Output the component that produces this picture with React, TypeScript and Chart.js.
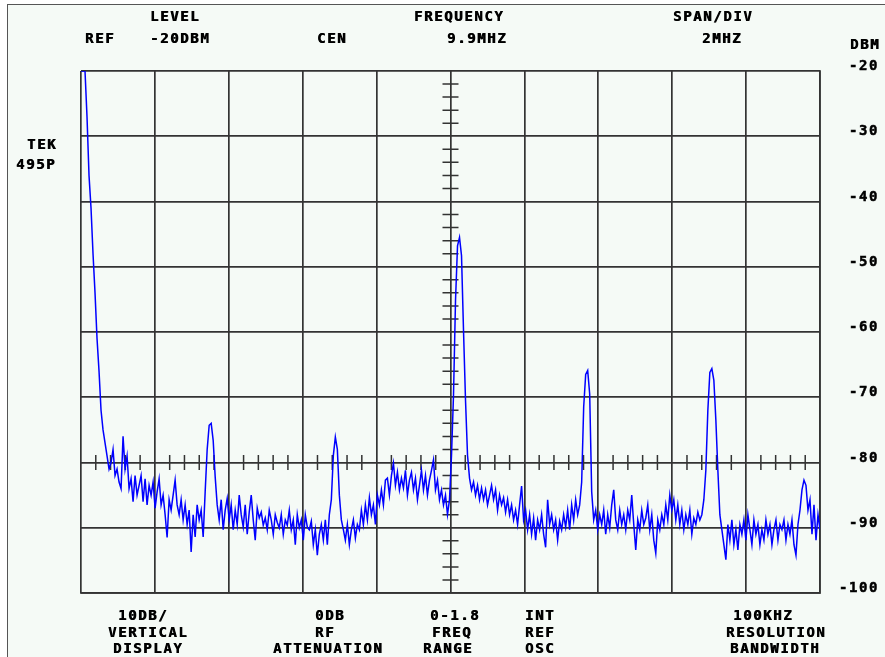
import React, { useEffect, useRef } from "react";
import { Chart, registerables } from "chart.js";

Chart.register(...registerables);

// ---- instrument settings ----
const centerMHz = 9.9;
const spanPerDivMHz = 2;
const divisionsX = 10;
const refLevelDbm = -20;
const dbPerDiv = 10;
const divisionsY = 8;
const yTickLabels = [-20, -30, -40, -50, -60, -70, -80, -90, -100];
const markerLineDbm = -80;

// ---- trace (dBm), evenly spaced across the 10 divisions ----
const traceDbm = [
  -20, -20, -20, -27, -36, -41, -48, -54, -61, -66,
  -72, -75, -77, -79, -81, -80, -78, -82, -81, -83,
  -84, -76, -81, -79, -84, -82.5, -86, -82, -85, -83.5,
  -82, -86, -82.5, -86.5, -83.5, -85, -83, -87, -84.5, -82.5,
  -86.5, -85, -88, -91.5, -85.7, -87.3, -85, -82.7, -86.5, -88,
  -85.7, -88.8, -86.5, -89.5, -87.3, -93.7, -88, -91.4, -86.5, -88.8,
  -87.3, -91.4, -84.5, -78, -74.3, -74, -76.6, -82.2, -86.5, -88.8,
  -85.7, -90.3, -87.3, -85.5, -88.8, -86.5, -90.3, -87.3, -89.5, -85,
  -88, -89.9, -86.5, -91, -87.6, -85, -88.8, -91.9, -87, -88.5,
  -87.6, -89.6, -88.5, -90.3, -87.3, -88.8, -91, -88, -89.2, -90,
  -88, -91, -88.8, -89.6, -87.3, -90.3, -88.8, -92.6, -88, -90,
  -88.8, -91.9, -88, -89.9, -90.3, -89, -92.6, -90.3, -94.2, -91,
  -89.5, -91.9, -88.8, -92.6, -88, -85.7, -78.9, -76.1, -78, -85,
  -88.8, -90.3, -91.9, -89.5, -92.6, -90.3, -88.8, -91.6, -89.5, -90.3,
  -87.3, -89.5, -86.5, -88.8, -85.4, -88, -86.5, -89.5, -85, -86.5,
  -84.2, -86.5, -82.7, -82.4, -85, -82, -80.1, -83.5, -81.5, -84.2,
  -82.4, -83.9, -81.2, -85, -82.7, -81.5, -84.2, -82.4, -85.7, -83.5,
  -81.2, -84.2, -82, -85, -82.7, -81.2, -79.6, -84.2, -82.7, -85.7,
  -84.2, -86.5, -85, -88, -85.7, -78.9, -69.7, -55.2, -46.8, -45.5,
  -48.3, -59.8, -70.5, -78.9, -82.4, -84.2, -83, -85, -83.5, -85.7,
  -83.9, -85.7, -84.2, -86.5, -85, -83.5, -85.7, -84.2, -87.3, -85,
  -86.5, -85.4, -87.6, -85.7, -88, -86.5, -88.8, -87.3, -89.5, -86.5,
  -83.6, -88.8, -87.3, -90.3, -88, -91, -88.5, -91.9, -88.8, -90.3,
  -88, -91, -93, -85.7, -89.5, -88, -90.3, -88.8, -91.9, -89,
  -90.3, -88, -89.9, -87.3, -90.3, -86.5, -88.8, -85.7, -88, -86.5,
  -83, -71.5, -66.5, -65.9, -69.5, -84.5, -88.8, -87.3, -90.3, -88,
  -89.5, -87.3, -91, -88, -90, -86.5, -84.2, -88.8, -90.3, -87.3,
  -89.5, -88, -90.3, -87.3, -88.8, -85, -89.5, -93.4, -88.8, -90.3,
  -87.3, -89.5, -88.5, -86.5, -90.3, -88, -91.9, -93.9, -88.8, -90.3,
  -88, -89.5, -86.5, -88.8, -85, -87.3, -85.7, -88.8, -86.5, -89.5,
  -87.3, -90.3, -88, -89.5, -87.3, -91, -88.5, -89.5, -87.6, -88.8,
  -88, -85.7, -81.2, -72, -66.2, -65.6, -67.4, -73.5, -81.2, -88,
  -90.3, -92.6, -94.9, -89.5, -91.9, -88.8, -92.6, -90.3, -93.4, -89.5,
  -91, -88.8, -91.9, -88, -90.3, -92.6, -88.8, -91, -89.5, -92.6,
  -90.3, -91.9, -88.8, -91, -89.5, -92.6, -90.3, -88.8, -91.9, -89.5,
  -90.3, -88.8, -91.9, -89.5, -91, -88.8, -92.6, -94.2, -89.5, -87.3,
  -84.2, -82.7, -83.5, -87.3, -85.7, -91, -86.5, -91.9, -88, -90.3,
];

// ---- readout texts ----
const topTitles = ["LEVEL", "FREQUENCY", "SPAN/DIV"];
const topValues = ["REF", "-20DBM", "CEN", "9.9MHZ", "2MHZ"];
const unitLabel = "DBM";
const modelLabel = ["TEK", "495P"];
const bottomBlocks = [
  ["10DB/", "VERTICAL", "DISPLAY"],
  ["0DB", "RF", "ATTENUATION"],
  ["0-1.8", "FREQ", "RANGE"],
  ["INT", "REF", "OSC"],
  ["100KHZ", "RESOLUTION", "BANDWIDTH"],
];

const xMin = centerMHz - (spanPerDivMHz * divisionsX) / 2;
const xMax = centerMHz + (spanPerDivMHz * divisionsX) / 2;
const yMax = refLevelDbm;
const yMin = refLevelDbm - dbPerDiv * divisionsY;

const GRID = "#333333";
const FONT = "'DejaVu Sans Mono', monospace";

const scopeTicks = {
  id: "scopeTicks",
  beforeDatasetsDraw(chart: any) {
    const { ctx, scales } = chart;
    const x = scales.x;
    const y = scales.y;
    ctx.save();
    ctx.strokeStyle = GRID;
    ctx.lineWidth = 1.5;
    ctx.beginPath();
    const yl = y.getPixelForValue(markerLineDbm);
    const sub = 5;
    for (let k = 1; k < divisionsX * sub; k++) {
      if (k % sub === 0) continue;
      const px = x.getPixelForValue(xMin + (k * spanPerDivMHz) / sub);
      ctx.moveTo(px, yl - 7.5);
      ctx.lineTo(px, yl + 7.5);
    }
    const xc = x.getPixelForValue(centerMHz);
    for (let k = 1; k < divisionsY * sub; k++) {
      if (k % sub === 0) continue;
      const py = y.getPixelForValue(yMin + (k * dbPerDiv) / sub);
      ctx.moveTo(xc - 8, py);
      ctx.lineTo(xc + 8, py);
    }
    ctx.stroke();
    ctx.restore();
  },
};

const spacing = {
  id: "spacing",
  beforeUpdate(chart: any) {
    chart.ctx.letterSpacing = "1.6px";
  },
  beforeDraw(chart: any) {
    chart.ctx.letterSpacing = "1.6px";
  },
};

function Txt({ x, y, children }: { x: number; y: number; children: React.ReactNode }) {
  return (
    <div
      style={{
        position: "fixed",
        left: x,
        top: y - 7,
        fontFamily: FONT,
        fontWeight: "bold",
        fontSize: 14,
        lineHeight: "14px",
        letterSpacing: "1.6px",
        color: "#000",
        textShadow: "0.6px 0 0 #000",
        whiteSpace: "nowrap",
      }}
    >
      {children}
    </div>
  );
}

export default function App() {
  const ref = useRef<HTMLCanvasElement | null>(null);

  useEffect(() => {
    if (!ref.current) return;
    const step = (xMax - xMin) / (traceDbm.length - 1);
    const points = traceDbm.map((v, i) => ({ x: xMin + i * step, y: v }));
    const xGrid = Array.from({ length: divisionsX + 1 }, (_, i) => xMin + i * spanPerDivMHz);

    const chart = new Chart(ref.current, {
      type: "line",
      data: {
        datasets: [
          {
            data: points,
            borderColor: "#0000ff",
            borderWidth: 1.5,
            pointRadius: 0,
            tension: 0,
            fill: false,
          },
        ],
      },
      options: {
        animation: false,
        responsive: false,
        maintainAspectRatio: false,
        layout: { padding: { left: 81, top: 71, right: 6, bottom: 64 } },
        plugins: { legend: { display: false }, tooltip: { enabled: false } },
        scales: {
          x: {
            type: "linear",
            min: xMin,
            max: xMax,
            afterBuildTicks: (s: any) => {
              s.ticks = xGrid.map((v) => ({ value: v }));
            },
            afterFit: (s: any) => {
              s.height = 0;
            },
            grid: { color: GRID, lineWidth: 1.7, drawTicks: false },
            border: { color: GRID, width: 1.7 },
            ticks: { display: false },
          },
          y: {
            position: "right",
            min: yMin,
            max: yMax,
            afterBuildTicks: (s: any) => {
              s.ticks = yTickLabels.map((v) => ({ value: v }));
            },
            afterFit: (s: any) => {
              s.width = 59;
            },
            grid: { color: GRID, lineWidth: 1.7, drawTicks: false },
            border: { color: GRID, width: 1.7 },
            ticks: {
              crossAlign: "far",
              padding: 13,
              labelOffset: -4.5,
              color: "#000",
              textStrokeColor: "#000",
              textStrokeWidth: 0.5,
              font: { family: FONT, weight: "bold", size: 14 },
              callback: (v: any) => String(v),
            },
          },
        },
      },
      plugins: [spacing, scopeTicks],
    } as any);
    return () => chart.destroy();
  }, []);

  return (
    <div>
      <div
        style={{
          position: "fixed",
          left: 7,
          top: 4,
          width: 900,
          height: 700,
          background: "#f5faf6",
          borderLeft: "1.5px solid #555",
          borderTop: "1.5px solid #555",
        }}
      />
      <canvas
        ref={ref}
        width={885}
        height={657}
        style={{ position: "fixed", left: 0, top: 0, width: 885, height: 657 }}
      />
      <Txt x={150} y={16}>{topTitles[0]}</Txt>
      <Txt x={414} y={16}>{topTitles[1]}</Txt>
      <Txt x={673} y={16}>{topTitles[2]}</Txt>
      <Txt x={85} y={38}>{topValues[0]}</Txt>
      <Txt x={150} y={38}>{topValues[1]}</Txt>
      <Txt x={317} y={38}>{topValues[2]}</Txt>
      <Txt x={447} y={38}>{topValues[3]}</Txt>
      <Txt x={702} y={38}>{topValues[4]}</Txt>
      <Txt x={850} y={44}>{unitLabel}</Txt>
      <Txt x={27} y={144}>{modelLabel[0]}</Txt>
      <Txt x={16} y={164}>{modelLabel[1]}</Txt>

      <Txt x={118} y={615}>{bottomBlocks[0][0]}</Txt>
      <Txt x={108} y={632}>{bottomBlocks[0][1]}</Txt>
      <Txt x={113} y={648}>{bottomBlocks[0][2]}</Txt>

      <Txt x={315} y={615}>{bottomBlocks[1][0]}</Txt>
      <Txt x={315} y={632}>{bottomBlocks[1][1]}</Txt>
      <Txt x={273} y={648}>{bottomBlocks[1][2]}</Txt>

      <Txt x={430} y={615}>{bottomBlocks[2][0]}</Txt>
      <Txt x={432} y={632}>{bottomBlocks[2][1]}</Txt>
      <Txt x={423} y={648}>{bottomBlocks[2][2]}</Txt>

      <Txt x={525} y={615}>{bottomBlocks[3][0]}</Txt>
      <Txt x={525} y={632}>{bottomBlocks[3][1]}</Txt>
      <Txt x={525} y={648}>{bottomBlocks[3][2]}</Txt>

      <Txt x={733} y={615}>{bottomBlocks[4][0]}</Txt>
      <Txt x={726} y={632}>{bottomBlocks[4][1]}</Txt>
      <Txt x={730} y={648}>{bottomBlocks[4][2]}</Txt>
    </div>
  );
}
